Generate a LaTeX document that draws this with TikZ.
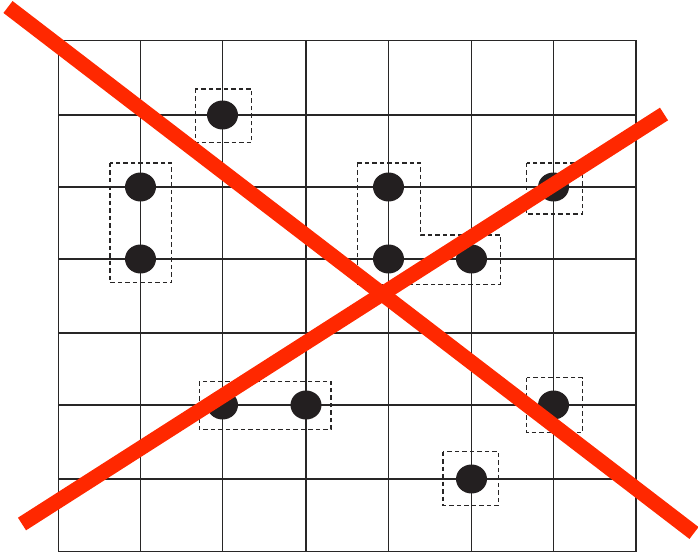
\documentclass[tikz,border=0pt]{standalone}
\usetikzlibrary{shapes.geometric}
\definecolor{gridc}{RGB}{40,38,38}
\definecolor{dotc}{RGB}{35,31,32}
\definecolor{crossred}{RGB}{255,40,0}
\tikzset{
  gridline/.style={draw=gridc, line width=1.6pt},
  dotnode/.style={ellipse, fill=dotc, minimum width=31pt, minimum height=29pt, inner sep=0pt},
  groupbox/.style={draw=gridc, line width=1.3pt, dash pattern=on 4.5pt off 3pt},
  crossline/.style={draw=crossred, line width=15pt, line cap=butt}
}
\begin{document}
\begin{tikzpicture}[x=1pt,y=-1pt]
\useasboundingbox (0,0) rectangle (698,556);
% grid
\foreach \x in {58.5,140.5,222.5,306,388.5,471.5,553.5,636}
  \draw[gridline] (\x,40.5) -- (\x,551.5);
\foreach \y in {40.5,115,187,259,333,405,479,551.5}
  \draw[gridline] (58.5,\y) -- (636,\y);
% dashed group boxes
\draw[groupbox] (195.3,89) rectangle (251.7,142.7);
\draw[groupbox] (110,163) rectangle (171.7,282.7);
\draw[groupbox] (357.3,163) -- (420.7,163) -- (420.7,235) -- (500.7,235) -- (500.7,284.3) -- (357.3,284.3) -- cycle;
\draw[groupbox] (526.7,163) rectangle (582.3,214);
\draw[groupbox] (199.3,381.3) rectangle (331,429.7);
\draw[groupbox] (526.7,377.7) rectangle (582.3,432.7);
\draw[groupbox] (443,451.7) rectangle (498.7,505.3);
% dots
\node[dotnode] (d1) at (222.5,115) {};
\node[dotnode] (d2) at (140.5,187) {};
\node[dotnode] (d3) at (140.5,259) {};
\node[dotnode] (d4) at (388.5,187) {};
\node[dotnode] (d5) at (388.5,259) {};
\node[dotnode] (d6) at (471.5,259) {};
\node[dotnode] (d7) at (553.5,187) {};
\node[dotnode] (d8) at (222.5,405) {};
\node[dotnode] (d9) at (306,405) {};
\node[dotnode] (d10) at (553.5,405) {};
\node[dotnode] (d11) at (471.5,479) {};
% red cross
\coordinate (a1) at (8,7);
\coordinate (a2) at (694,533);
\coordinate (b1) at (22,524);
\coordinate (b2) at (664,114);
\draw[crossline] (a1) -- (a2);
\draw[crossline] (b1) -- (b2);
\end{tikzpicture}
\end{document}
